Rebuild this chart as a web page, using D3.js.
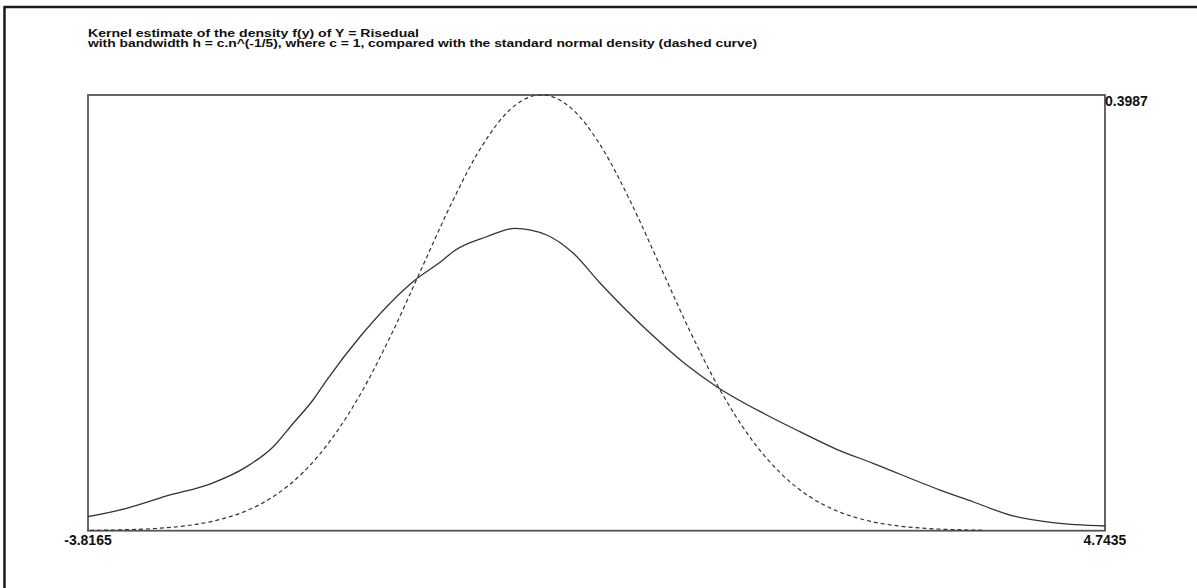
<!DOCTYPE html>
<html>
<head>
<meta charset="utf-8">
<script src="https://cdn.jsdelivr.net/npm/d3@7"></script>
<style>
  body { margin: 0; background: #fff; }
  text { font-family: "Liberation Sans", Arial, sans-serif; font-weight: bold; fill: #111; }
</style>
</head>
<body>
<div id="vis"></div>
<script>
// chart values
var titleLines = ["Kernel estimate of the density f(y) of Y = Risedual",
                  "with bandwidth h = c.n^(-1/5), where c = 1, compared with the standard normal density (dashed curve)"];
var xMin = -3.8165, xMax = 4.7435, yMax = 0.3987;
var xLabels = ["-3.8165", "4.7435"];
var yLabel = "0.3987";

// kernel estimate (solid)
var kernelX = [-3.8165, -3.491, -3.126, -2.790, -2.481, -2.257, -2.089, -1.923, -1.807, -1.527,
               -1.081, -0.829, -0.744, -0.461, -0.223, 0.044, 0.266, 0.493, 0.914, 1.222,
               1.475, 1.896, 2.176, 2.485, 2.791, 3.355, 3.632, 3.969, 4.306, 4.7435];
var kernelY = [0.0128, 0.0205, 0.0327, 0.0427, 0.0586, 0.0769, 0.0983, 0.1196, 0.1379, 0.1775,
               0.2279, 0.2477, 0.2553, 0.2690, 0.2767, 0.2706, 0.2541, 0.2267, 0.1809, 0.1516,
               0.1318, 0.1059, 0.0906, 0.0745, 0.0617, 0.0372, 0.0265, 0.0135, 0.0073, 0.0043];

// standard normal (dashed)
var normalX = [-3.8, -3.5, -3.25, -3.0, -2.75, -2.5, -2.25, -2.0, -1.75, -1.5, -1.25, -1.0, -0.75, -0.5, -0.25,
               0, 0.25, 0.5, 0.75, 1.0, 1.25, 1.5, 1.75, 2.0, 2.25, 2.5, 2.75, 3.0, 3.25, 3.5, 3.73];
var normalY = [0.0003, 0.0009, 0.0020, 0.0044, 0.0091, 0.0175, 0.0317, 0.0540, 0.0863, 0.1295, 0.1826, 0.2420, 0.3011, 0.3521, 0.3867,
               0.3989, 0.3867, 0.3521, 0.3011, 0.2420, 0.1826, 0.1295, 0.0863, 0.0540, 0.0317, 0.0175, 0.0091, 0.0044, 0.0020, 0.0009, 0.0004];

var W = 1197, H = 588;
var plotLeft = 88, plotRight = 1105, plotTop = 95, plotBottom = 530.7;

var svg = d3.select("#vis").append("svg")
    .attr("width", W)
    .attr("height", H);

// outer window frame (top and left edges only)
svg.append("line").attr("x1", 4).attr("x2", W).attr("y1", 7).attr("y2", 7)
    .attr("stroke", "#1a1a1a").attr("stroke-width", 2.5);
svg.append("line").attr("x1", 4.5).attr("x2", 4.5).attr("y1", 6).attr("y2", H)
    .attr("stroke", "#1a1a1a").attr("stroke-width", 2.5);

// title
svg.selectAll(".title")
    .data(titleLines)
    .enter()
    .append("text")
    .attr("class", "title")
    .attr("x", plotLeft)
    .attr("y", function(d, i) { return 36.5 + i * 10.5; })
    .attr("font-size", 10.5)
    .attr("textLength", function(d, i) { return i == 0 ? 331 : 669; })
    .attr("lengthAdjust", "spacingAndGlyphs")
    .text(function(d) { return d; });

var x = d3.scaleLinear().domain([xMin, xMax]).range([plotLeft, plotRight]);
var y = d3.scaleLinear().domain([0, yMax]).range([plotBottom, plotTop]);

// plot frame
svg.append("rect")
    .attr("x", x(xMin))
    .attr("y", y(yMax))
    .attr("width", x(xMax) - x(xMin))
    .attr("height", y(0) - y(yMax))
    .attr("fill", "none")
    .attr("stroke", "#555")
    .attr("stroke-width", 1.8);

var line = d3.line()
    .x(function(d) { return x(d[0]); })
    .y(function(d) { return y(d[1]); })
    .curve(d3.curveMonotoneX);

svg.append("path")
    .datum(normalX.map(function(v, i) { return [v, normalY[i]]; }))
    .attr("d", line)
    .attr("fill", "none")
    .attr("stroke", "#333")
    .attr("stroke-width", 1.2)
    .attr("stroke-dasharray", "4,3");

svg.append("path")
    .datum(kernelX.map(function(v, i) { return [v, kernelY[i]]; }))
    .attr("d", line)
    .attr("fill", "none")
    .attr("stroke", "#333")
    .attr("stroke-width", 1.3);

// end labels
svg.selectAll(".xlab")
    .data([xMin, xMax])
    .enter()
    .append("text")
    .attr("class", "xlab")
    .attr("x", function(d) { return x(d); })
    .attr("y", plotBottom + 14)
    .attr("text-anchor", "middle")
    .attr("font-size", 14)
    .text(function(d, i) { return xLabels[i]; });

svg.append("text")
    .attr("x", x(xMax))
    .attr("y", y(yMax) + 11)
    .attr("font-size", 14)
    .text(yLabel);
</script>
</body>
</html>
